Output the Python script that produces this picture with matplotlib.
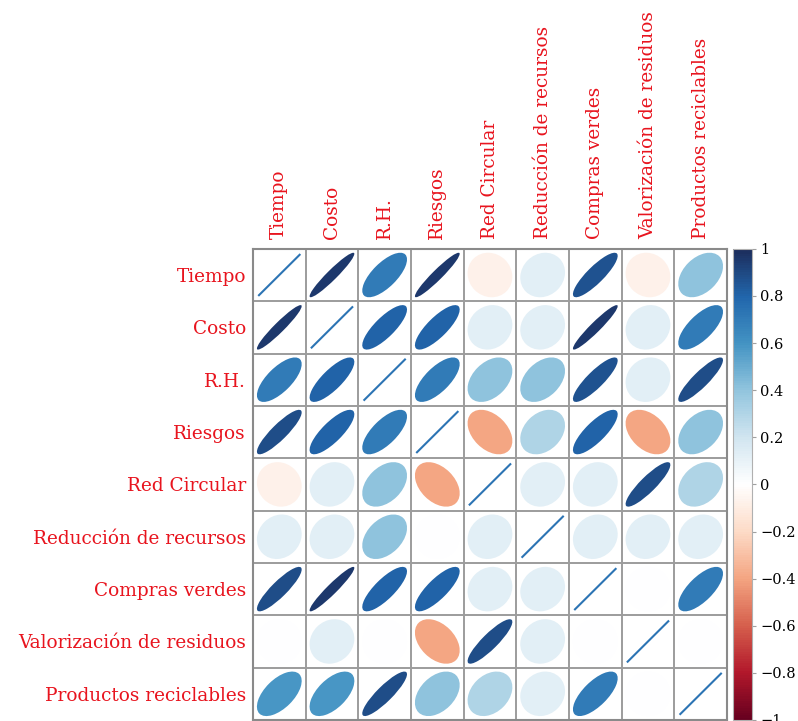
import numpy as np
import matplotlib
matplotlib.use("Agg")
import matplotlib.pyplot as plt
from matplotlib.patches import Ellipse
from matplotlib.colors import LinearSegmentedColormap, Normalize
from matplotlib.cm import ScalarMappable

plt.rcParams['font.family'] = ['DejaVu Serif']

labels = ["Tiempo", "Costo", "R.H.", "Riesgos", "Red Circular",
          "Reducción de recursos", "Compras verdes",
          "Valorización de residuos", "Productos reciclables"]

# correlation matrix, row by row
r_tiempo = [1.00, 0.95, 0.70, 0.95, -0.08, 0.12, 0.86, -0.08, 0.40]
r_costo = [0.95, 1.00, 0.80, 0.80, 0.12, 0.12, 0.95, 0.12, 0.70]
r_rh = [0.70, 0.80, 1.00, 0.70, 0.40, 0.40, 0.86, 0.12, 0.88]
r_riesgos = [0.88, 0.80, 0.70, 1.00, -0.40, 0.30, 0.80, -0.40, 0.40]
r_red = [-0.08, 0.12, 0.40, -0.40, 1.00, 0.12, 0.12, 0.88, 0.30]
r_reduccion = [0.12, 0.12, 0.40, 0.00, 0.12, 1.00, 0.12, 0.12, 0.12]
r_compras = [0.88, 0.95, 0.80, 0.80, 0.12, 0.12, 1.00, 0.00, 0.70]
r_valor = [0.00, 0.12, 0.00, -0.40, 0.88, 0.12, 0.00, 1.00, 0.00]
r_productos = [0.58, 0.58, 0.88, 0.40, 0.30, 0.12, 0.70, 0.00, 1.00]

corr = np.array([r_tiempo, r_costo, r_rh, r_riesgos, r_red, r_reduccion,
                 r_compras, r_valor, r_productos])

cbar_ticks = [-1, -0.8, -0.6, -0.4, -0.2, 0, 0.2, 0.4, 0.6, 0.8, 1]

# RdBu palette as used by corrplot
pal = ["#67001F", "#B2182B", "#D6604D", "#F4A582", "#FDDBC7", "#FFFFFF",
       "#D1E5F0", "#92C5DE", "#4393C3", "#2166AC", "#1c2d5c"]
cmap = LinearSegmentedColormap.from_list("corr_rdbu", pal, N=200)
norm = Normalize(-1, 1)

txt_col = "#e8141e"
grid_col = "#9c9c9c"

fig = plt.figure(figsize=(7.98, 7.21), dpi=100)
ax = fig.add_axes([0.317, 0.0014, 0.594, 0.6535])

n = len(labels)
scale = 0.85
for i in range(n):
    y = n - 1 - i
    for j in range(n):
        r = corr[i, j]
        if r >= 0.999:
            ax.plot([j - 0.4, j + 0.4], [y - 0.4, y + 0.4],
                    color="#2c74b4", lw=1.5, solid_capstyle="butt")
            continue
        a = np.arccos(r) / 2
        ell = Ellipse((j, y), width=scale * np.sqrt(2) * np.cos(a),
                      height=scale * np.sqrt(2) * np.sin(a), angle=45,
                      facecolor=cmap(norm(r)), edgecolor="none")
        ax.add_patch(ell)

for k in range(n + 1):
    ax.axhline(k - 0.5, color=grid_col, lw=1.4)
    ax.axvline(k - 0.5, color=grid_col, lw=1.4)

ax.set_xlim(-0.5, n - 0.5)
ax.set_ylim(-0.5, n - 0.5)
for s in ax.spines.values():
    s.set_color("#8a8a8a")
    s.set_linewidth(1.5)

ax.xaxis.tick_top()
ax.set_xticks(range(n))
ax.set_xticklabels(labels, rotation=90, color=txt_col, fontsize=13.3,
                   va="bottom", ha="center")
ax.set_yticks(range(n))
ax.set_yticklabels(labels[::-1], color=txt_col, fontsize=13.3)
ax.tick_params(length=0)
ax.tick_params(axis="x", pad=7)
ax.tick_params(axis="y", pad=5)

# colour legend
cax = fig.add_axes([0.9185, 0.0014, 0.024, 0.6535])
cb = fig.colorbar(ScalarMappable(norm=norm, cmap=cmap), cax=cax,
                  ticks=cbar_ticks)
cb.outline.set_edgecolor("#b0b0b0")
cb.ax.tick_params(length=3, color="#a0a0a0", labelsize=10.5, pad=3)
cb.ax.set_yticklabels([f"{t:g}".replace("-", "\u2212") for t in cbar_ticks])

fig.savefig("out.png", dpi=100)
